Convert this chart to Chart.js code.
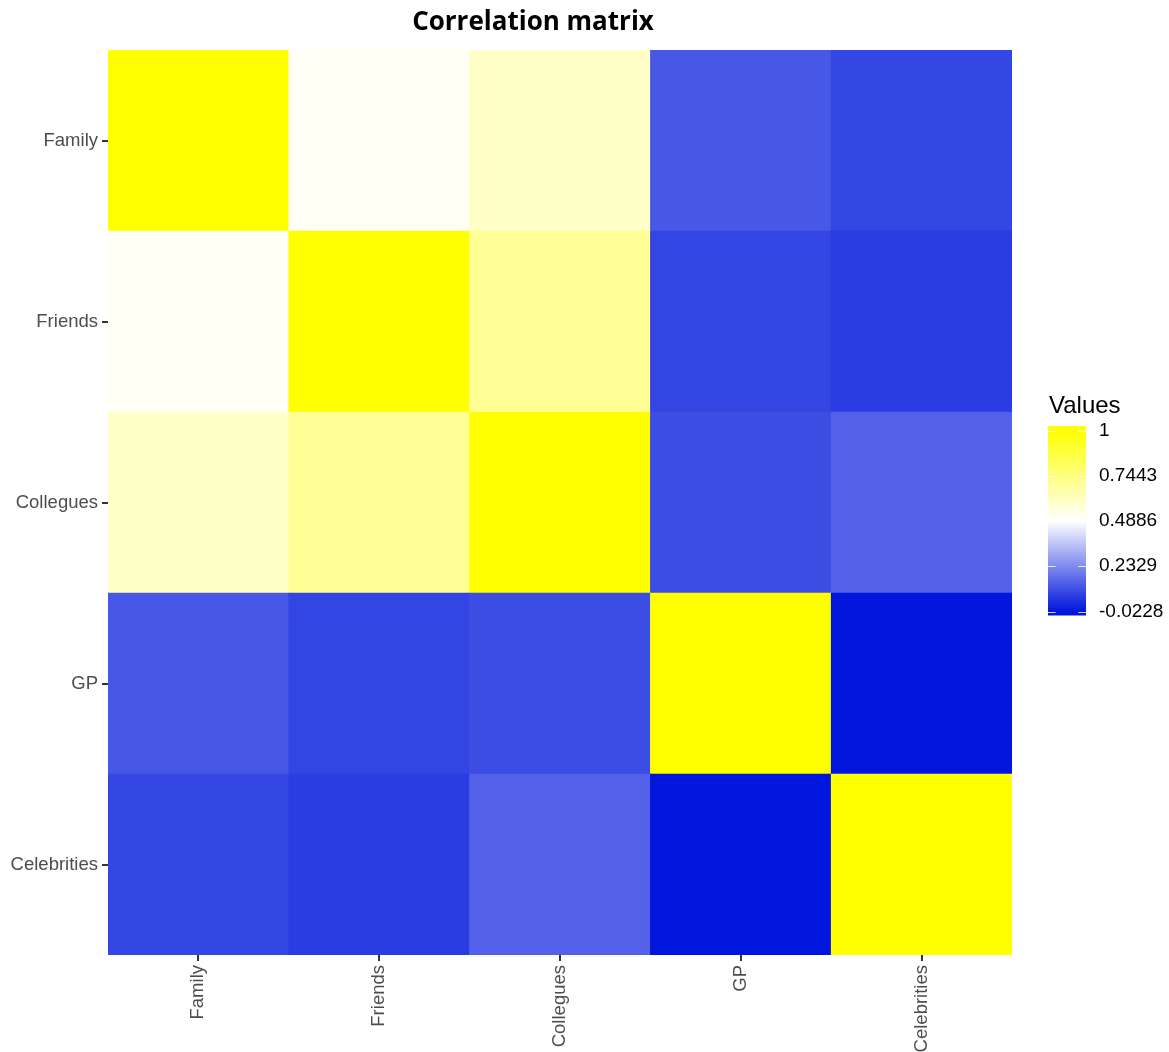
<!DOCTYPE html>
<html>
<head>
<meta charset="UTF-8">
<title>Correlation matrix</title>
<script src="https://cdn.jsdelivr.net/npm/chart.js"></script>
<style>
  body { margin: 0; background: #fff; }
  canvas { display: block; }
</style>
</head>
<body>
<canvas id="corrChart" width="1169" height="1052"></canvas>
<script>
// categories (top to bottom, left to right)
const labels = ['Family', 'Friends', 'Collegues', 'GP', 'Celebrities'];

// correlation values, one row per category
const familyRow      = [1, 0.509, 0.599, 0.121, 0.084];
const friendsRow     = [0.509, 1, 0.699, 0.080, 0.061];
const colleguesRow   = [0.599, 0.699, 1, 0.097, 0.142];
const gpRow          = [0.121, 0.080, 0.097, 1, -0.0228];
const celebritiesRow = [0.084, 0.061, 0.142, -0.0228, 1];

// colour bar breaks
const legendTicks = [1, 0.7443, 0.4886, 0.2329, -0.0228];

const rows = [familyRow, friendsRow, colleguesRow, gpRow, celebritiesRow];
const vMin = -0.0228, vMid = 0.4886, vMax = 1;

// --- colour scale: blue -> white -> yellow ---
const lowCol = [0, 22, 220], midCol = [255, 255, 255], highCol = [255, 255, 0];

function colourFor(v) {
    let a, b, t;
    if (v <= vMid) { a = lowCol; b = midCol; t = (v - vMin) / (vMid - vMin); }
    else { a = midCol; b = highCol; t = (v - vMid) / (vMax - vMid); }
    t = Math.max(0, Math.min(1, t));
    const rgb = [0, 1, 2].map(i => Math.round(a[i] + (b[i] - a[i]) * t));
    return 'rgb(' + rgb.join(',') + ')';
}

// stacked bars: first dataset sits at the bottom, so reverse the rows
const datasets = rows.slice().reverse().map((row, i) => ({
    label: labels[labels.length - 1 - i],
    data: row.map(() => 1),
    backgroundColor: row.map(colourFor),
    borderWidth: 0,
    barPercentage: 1,
    categoryPercentage: 1
}));

// title + colour bar legend
const extrasPlugin = {
    id: 'extras',
    afterDraw(chart) {
        const ctx = chart.ctx;
        ctx.save();
        ctx.fillStyle = '#000';
        ctx.font = 'bold 26px "Open Sans"';
        ctx.textAlign = 'center';
        ctx.textBaseline = 'middle';
        ctx.fillText('Correlation matrix', 533, 23);

        // legend
        const barX = 1048, barW = 38, barTop = 426, barBot = 615.5;
        const yTop = 430.5, yBot = 611.5;
        const yOf = v => yBot - (v - vMin) / (vMax - vMin) * (yBot - yTop);
        ctx.font = '24px "Liberation Sans"';
        ctx.textAlign = 'left';
        ctx.textBaseline = 'alphabetic';
        ctx.fillText('Values', 1049, 413);

        for (let y = barTop; y < barBot; y += 1) {
            const v = vMin + (yBot - (y + 0.5)) / (yBot - yTop) * (vMax - vMin);
            ctx.fillStyle = colourFor(v);
            ctx.fillRect(barX, y, barW, Math.min(1, barBot - y));
        }
        ctx.strokeStyle = 'rgba(255,255,255,0.8)';
        ctx.lineWidth = 1;
        ctx.font = '19px "Liberation Sans"';
        ctx.textBaseline = 'middle';
        ctx.fillStyle = '#000';
        legendTicks.forEach(v => {
            const y = Math.round(yOf(v)) + 0.5;
            ctx.beginPath();
            ctx.moveTo(barX, y); ctx.lineTo(barX + barW / 5, y);
            ctx.moveTo(barX + barW, y); ctx.lineTo(barX + barW - barW / 5, y);
            ctx.stroke();
            ctx.fillText(String(v), 1099, yOf(v));
        });
        ctx.restore();
    }
};

new Chart(document.getElementById('corrChart'), {
    type: 'bar',
    data: { labels: labels, datasets: datasets },
    options: {
        responsive: false,
        animation: false,
        layout: { padding: { top: 50, right: 157, left: 0, bottom: 0 } },
        plugins: { legend: { display: false }, tooltip: { enabled: false } },
        scales: {
            x: {
                stacked: true,
                grid: { offset: false, drawOnChartArea: false, drawTicks: true, tickLength: 6, color: '#333', lineWidth: 2 },
                border: { display: false },
                ticks: {
                    minRotation: 90, maxRotation: 90, padding: 4,
                    color: '#4D4D4D', font: { family: 'Liberation Sans', size: 18.5 }
                },
                afterFit(scale) { scale.height = 97; }
            },
            y: {
                stacked: true,
                min: 0, max: 5,
                grid: { drawOnChartArea: false, drawTicks: true, tickLength: 6, color: '#333', lineWidth: 2 },
                border: { display: false },
                afterBuildTicks(scale) {
                    scale.ticks = [0.5, 1.5, 2.5, 3.5, 4.5].map(v => ({ value: v }));
                },
                ticks: {
                    padding: 4,
                    color: '#4D4D4D', font: { family: 'Liberation Sans', size: 18.5 },
                    callback: v => labels[labels.length - 1 - Math.floor(v)]
                },
                afterFit(scale) { scale.width = 108; }
            }
        }
    },
    plugins: [extrasPlugin]
});
</script>
</body>
</html>
